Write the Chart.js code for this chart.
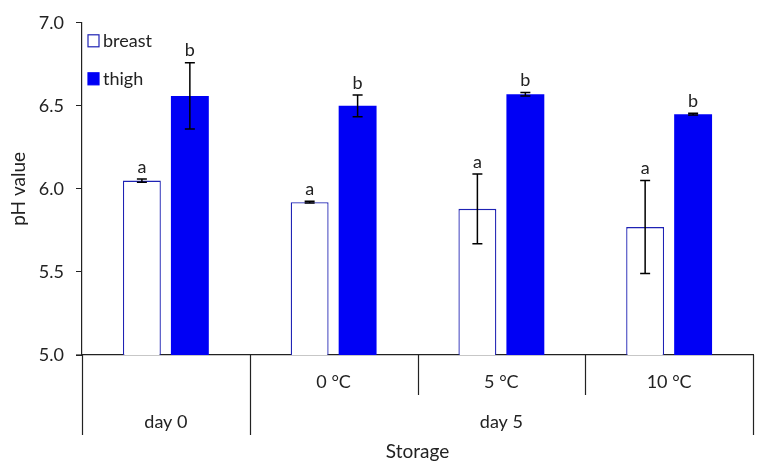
<!DOCTYPE html>
<html>
<head>
<meta charset="utf-8">
<script src="https://cdn.jsdelivr.net/npm/chart.js@4"></script>
<style>
  body { margin: 0; background: #fff; }
  #wrap { width: 766px; height: 471px; }
</style>
</head>
<body>
<div id="wrap"><canvas id="phChart"></canvas></div>
<script>
// storage conditions, lower row of the x axis
const conditions = ['', '0 °C', '5 °C', '10 °C'];
// upper grouping row: label and how many conditions it covers
const groupLabels = ['day 0', 'day 5'];
const groupSpans = [1, 3];

const breastMeans = [6.05, 5.92, 5.88, 5.77];
const breastErrors = [0.01, 0.005, 0.21, 0.28];
const breastLetters = ['a', 'a', 'a', 'a'];

const thighMeans = [6.56, 6.50, 6.57, 6.45];
const thighErrors = [0.2, 0.065, 0.01, 0.005];
const thighLetters = ['b', 'b', 'b', 'b'];

const FONT = 'Lato, "Open Sans", sans-serif';

const errorBars = [breastErrors, thighErrors];
const letters = [breastLetters, thighLetters];

// error bars, letters, legend and the two-level category axis
const extrasPlugin = {
  id: 'extras',
  afterDatasetsDraw(chart) {
    const ctx = chart.ctx;
    const y = chart.scales.y;
    const area = chart.chartArea;
    ctx.save();

    chart.data.datasets.forEach((ds, i) => {
      const meta = chart.getDatasetMeta(i);
      meta.data.forEach((bar, j) => {
        const v = ds.data[j];
        const e = errorBars[i][j];
        const top = y.getPixelForValue(v + e);
        const bot = y.getPixelForValue(v - e);
        ctx.strokeStyle = '#000';
        ctx.lineWidth = 1.5;
        ctx.beginPath();
        ctx.moveTo(bar.x, top); ctx.lineTo(bar.x, bot);
        ctx.moveTo(bar.x - 5, top); ctx.lineTo(bar.x + 5, top);
        ctx.moveTo(bar.x - 5, bot); ctx.lineTo(bar.x + 5, bot);
        ctx.stroke();
        ctx.fillStyle = '#222';
        ctx.font = '18px ' + FONT;
        ctx.textAlign = 'center';
        ctx.textBaseline = 'bottom';
        ctx.fillText(letters[i][j], bar.x, top - 3);
      });
    });

    // legend inside the plot
    chart.data.datasets.forEach((ds, i) => {
      const bx = area.left + 6, by = area.top + 12 + i * 38;
      ctx.fillStyle = ds.backgroundColor;
      ctx.fillRect(bx, by, 11, 12);
      ctx.strokeStyle = ds.borderColor;
      ctx.lineWidth = 1.2;
      ctx.strokeRect(bx, by, 11, 12);
      ctx.fillStyle = '#222';
      ctx.font = '18px ' + FONT;
      ctx.textAlign = 'left';
      ctx.textBaseline = 'middle';
      ctx.fillText(ds.label, bx + 15, by + 6);
    });

    // hierarchical x axis
    const n = conditions.length;
    const w = (area.right - area.left) / n;
    const base = area.bottom;
    const groupEdges = [0];
    groupSpans.forEach(s => groupEdges.push(groupEdges[groupEdges.length - 1] + s));
    ctx.strokeStyle = '#222';
    ctx.lineWidth = 1.2;
    ctx.beginPath();
    ctx.moveTo(area.left - 6, base); ctx.lineTo(area.left, base);
    ctx.stroke();
    for (let k = 0; k <= n; k++) {
      const x = Math.round(area.left + k * w) + 0.5;
      const len = groupEdges.includes(k) ? 80 : 40;
      ctx.beginPath();
      ctx.moveTo(x, base); ctx.lineTo(x, base + len);
      ctx.stroke();
    }
    ctx.fillStyle = '#222';
    ctx.font = '18px ' + FONT;
    ctx.textAlign = 'center';
    ctx.textBaseline = 'middle';
    conditions.forEach((c, j) => {
      if (c) ctx.fillText(c, area.left + (j + 0.5) * w, base + 27);
    });
    groupLabels.forEach((g, k) => {
      const mid = area.left + (groupEdges[k] + groupEdges[k + 1]) / 2 * w;
      ctx.fillText(g, mid, base + 67);
    });
    ctx.font = '19px ' + FONT;
    ctx.fillText('Storage', (area.left + area.right) / 2, base + 97);
    ctx.restore();
  }
};

const phData = {
  labels: conditions,
  datasets: [
    {
      label: 'breast',
      data: breastMeans,
      backgroundColor: '#ffffff',
      borderColor: '#1e22b4',
      borderWidth: 1.3,
      borderSkipped: false,
      categoryPercentage: 0.572,
      barPercentage: 0.79
    },
    {
      label: 'thigh',
      data: thighMeans,
      backgroundColor: '#0000f5',
      borderColor: '#0000f5',
      borderWidth: 0,
      categoryPercentage: 0.572,
      barPercentage: 0.79
    }
  ]
};

const phConfig = {
  type: 'bar',
  data: phData,
  plugins: [extrasPlugin],
  options: {
    responsive: true,
    maintainAspectRatio: false,
    animation: false,
    layout: { padding: { left: 0, right: 13, top: 12, bottom: 116 } },
    plugins: {
      legend: { display: false },
      tooltip: { enabled: false }
    },
    scales: {
      x: {
        grid: { display: false },
        ticks: { display: false },
        border: { color: '#222', width: 1.2 },
        afterFit(scale) { scale.height = 0; }
      },
      y: {
        min: 5,
        max: 7,
        ticks: {
          stepSize: 0.5,
          color: '#222',
          padding: 12,
          font: { family: FONT, size: 18 },
          callback: v => v.toFixed(1)
        },
        grid: { drawOnChartArea: false, drawTicks: true, tickLength: 6, color: '#222' },
        border: { color: '#222', width: 1.2 },
        title: {
          display: true,
          text: 'pH value',
          color: '#222',
          font: { family: FONT, size: 19 },
          padding: { top: 7, bottom: 0 }
        },
        afterFit(scale) { scale.width = 82; }
      }
    }
  }
};

const phChart = new Chart(document.getElementById('phChart'), phConfig);
</script>
</body>
</html>
